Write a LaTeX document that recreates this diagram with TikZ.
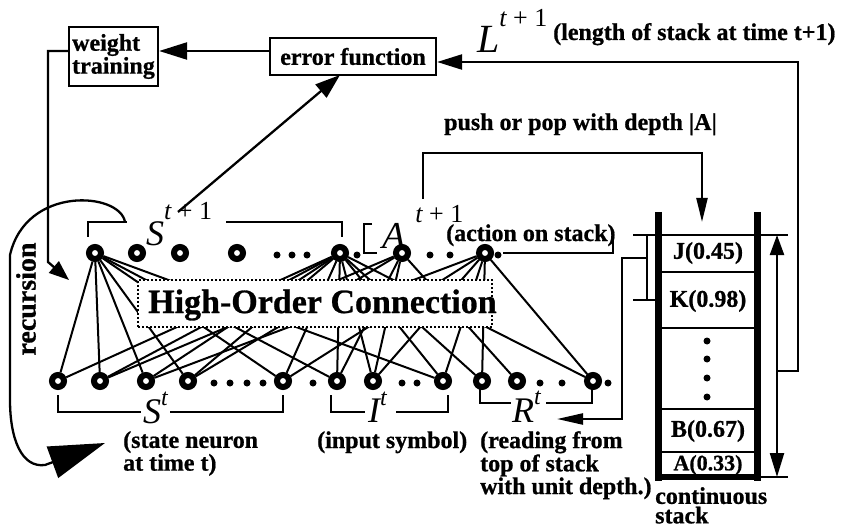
\documentclass[tikz,border=0pt]{standalone}
\usepackage{fontspec}
\setmainfont{Liberation Serif}[BoldFeatures={FakeBold=0.8}]
\usetikzlibrary{arrows.meta}
\begin{document}
\begin{tikzpicture}[x=1pt,y=-1pt,
 neuron/.style={circle,draw=black,fill=white,line width=6pt,minimum size=12pt,inner sep=0pt},
 dotn/.style={circle,fill=black,inner sep=0pt,minimum size=7pt},
 lbl/.style={font=\fontsize{24}{20.5}\selectfont\bfseries,inner sep=0pt,align=left},
 mth/.style={font=\fontsize{36}{36}\selectfont\itshape,inner sep=0pt,anchor=base west},
 edge/.style={line width=2pt},
 wire/.style={line width=2.3pt},
 box/.style={draw,line width=2.2pt,inner sep=0pt},
 thick stack/.style={line width=7pt},
 thin stack/.style={line width=2pt}]
\useasboundingbox (0,0) rectangle (845,529);

% ---------- boxes ----------
\node[box,lbl,minimum width=89pt,minimum height=59pt] (wt) at (113.5,56.5) {weight\\training};
\node[box,lbl,minimum width=166pt,minimum height=37pt] (ef) at (353,56.5) {error function};

% ---------- neurons ----------
\foreach \n/\x in {1/95,2/137,3/180,4/237,5/340,6/402,7/485}
  \node[neuron] (T\n) at (\x,253) {};
\foreach \n/\x in {1/58,2/100,3/146,4/188,5/283,6/337,7/373,8/443,9/482,10/517,11/593}
  \node[neuron] (B\n) at (\x,381) {};

% dots
\foreach \i/\x in {1/277,2/292,3/307,4/357,5/430,6/450,7/498}
  \node[dotn] (td\i) at (\x,255) {};
\foreach \i/\x in {1/214,2/230,3/247,4/263,5/313,6/402,7/417,8/540,9/562,10/608}
  \node[dotn] (bd\i) at (\x,383) {};

% ---------- high-order connections ----------
\foreach \b in {1,2,3,4,5,6,8} \draw[edge] (T1) -- (B\b);
\foreach \b in {1,2,3,4,5,6,7,8,9,11} \draw[edge] (T5) -- (B\b);
\foreach \b in {2,4,6,7,10} \draw[edge] (T6) -- (B\b);
\foreach \b in {3,5,7,8,9,11} \draw[edge] (T7) -- (B\b);

\node[draw,fill=white,line width=1.3pt,dash pattern=on 2pt off 2pt,minimum width=354pt,minimum height=47pt,inner sep=0pt] (hoc) at (315,303.5) {};
\node[inner sep=0pt,anchor=base west,font=\fontsize{34}{34}\selectfont\bfseries] (hoct) at (148,313) {High-Order Connection};

% ---------- brackets and labels of neuron groups ----------
\draw[wire] (88,237) -- (88,222) -- (127,222);
\draw[wire] (226,222) -- (342,222) -- (342,237);
\node[mth] (Sn) at (146,245) {S\raisebox{25pt}{\fontsize{26}{26}\selectfont\itshape t\upshape{} + 1}};

\draw[wire] (372,224) -- (364,224) -- (364,253) -- (377,253);
\node[mth,font=\fontsize{38}{38}\selectfont\itshape] (An) at (382,248) {A\hspace{10pt}\raisebox{26pt}{\fontsize{26}{26}\selectfont\itshape t\upshape{} + 1}};
\coordinate (ac1) at (503,253);
\coordinate (ac2) at (613,253);
\coordinate (ac3) at (613,234);
\draw[wire] (ac1) -- (ac2) -- (ac3);
\node[lbl,anchor=base west] (act) at (446,241) {(action on stack)};

\draw[wire] (58,395) -- (58,412) -- (141,412);
\draw[wire] (170,412) -- (283,412) -- (283,395);
\node[mth] (St) at (143,423) {S\raisebox{18pt}{\fontsize{24}{24}\selectfont\itshape t}};

\draw[wire] (331,395) -- (331,412) -- (365,412);
\draw[wire] (396,412) -- (448,412) -- (448,395);
\node[mth] (It) at (368,422) {I\raisebox{17pt}{\fontsize{24}{24}\selectfont\itshape t}};

\draw[wire] (480,387) -- (480,403) -- (511,403);
\draw[wire] (546,403) -- (592,403) -- (592,389);
\node[mth] (Rt) at (512,422) {R\raisebox{18pt}{\fontsize{24}{24}\selectfont\itshape t}};

\node[lbl,anchor=north west] (stl) at (123,431) {(state neuron\\at time t)};
\node[lbl,anchor=base west] (inl) at (317,448) {(input symbol)};
\node[lbl,anchor=north west] (rdl) at (480,431) {(reading from\\top of stack\\with unit depth.)};

% ---------- stack ----------
\draw[thick stack] (658,212) -- (658,481);
\draw[thick stack] (757,212) -- (757,481);
\draw[line width=6pt] (655,477) -- (760,477);
\draw[thin stack] (633,235) -- (788,235);
\draw[thin stack] (757,477) -- (788,477);
\foreach \y in {272,328,409,452} \draw[thin stack] (658,\y) -- (757,\y);
\node[lbl] (cJ) at (708,253) {J(0.45)};
\node[lbl] (cK) at (708,301) {K(0.98)};
\node[lbl] (cB) at (708,431) {B(0.67)};
\node[lbl,font=\fontsize{22}{22}\selectfont\bfseries] (cA) at (708,465) {A(0.33)};
\foreach \i/\y in {1/341,2/359,3/378,4/397} \node[dotn] (sd\i) at (707,\y) {};
\node[lbl,anchor=north west,font=\fontsize{24}{19.5}\selectfont\bfseries] (cst) at (655,487) {continuous\\stack};

% top-of-stack bracket and reading connector
\draw[wire] (647,235) -- (647,300);
\draw[wire] (633,300) -- (658,300);
\coordinate (r1) at (647,258);
\coordinate (r2) at (622,258);
\coordinate (r3) at (622,419);
\coordinate (r4) at (557,419);
\draw[wire,-{Triangle[length=26pt,width=11pt]}] (r1) -- (r2) -- (r3) -- (r4);

% length arrow
\coordinate (la) at (777,235);
\coordinate (lb) at (777,477);
\draw[wire,{Triangle[length=20pt,width=14pt]}-{Triangle[length=24pt,width=14pt]}] (la) -- (lb);
\coordinate (l1) at (777,371);
\coordinate (l2) at (798,371);
\coordinate (l3) at (798,62);
\draw[wire,-{Triangle[length=25pt,width=15pt]}] (l1) -- (l2) -- (l3) -- (l3 -| ef.east);
\node[mth,font=\fontsize{40}{40}\selectfont\itshape] (Ll) at (477,53) {L\raisebox{26pt}{\fontsize{26}{26}\selectfont\itshape t\upshape{} + 1}};
\node[lbl,anchor=base west] (llab) at (553,40) {(length of stack at time t+1)};

% push / pop
\coordinate (p1) at (423,199);
\coordinate (p2) at (423,153);
\coordinate (p3) at (702,153);
\coordinate (p4) at (702,222);
\draw[wire,-{Triangle[length=24pt,width=11pt]}] (p1) -- (p2) -- (p3) -- (p4);
\node[lbl,anchor=base west] (ppl) at (444,130) {push or pop with depth |A|};

% error -> weight training
\coordinate (e0) at (200,51);
\draw[wire,-{Triangle[length=28pt,width=17pt]}] (e0 -| ef.west) -- (e0 -| wt.east);
% S(t+1) -> error function
\coordinate (s1) at (178,212);
\coordinate (s2) at (340,75);
\draw[wire,-{Triangle[length=25pt,width=17pt]}] (s1) -- (s2);
% weight training -> network
\coordinate (w1) at (48,51);
\coordinate (w2) at (48,262);
\coordinate (w3) at (69,280);
\draw[wire,-{Triangle[length=20pt,width=15pt]}] (e0 -| wt.west) -- (w1) -- (w2) -- (w3);

% recursion
\coordinate (rc0) at (125,222);
\coordinate (rc1) at (10,255);
\coordinate (rc2) at (10,400);
\coordinate (rc3) at (45,465);
\coordinate (rc4) at (105,443);
\draw[wire,-{Triangle[length=56pt,width=33pt]}] (rc0) .. controls (120,192) and (26,185) .. (rc1) -- (rc2) .. controls (10,440) and (22,468) .. (rc3) -- (rc4);
\node[inner sep=0pt,font=\fontsize{28}{28}\selectfont\bfseries,rotate=90] (rec) at (26,299) {recursion};
\end{tikzpicture}
\end{document}
